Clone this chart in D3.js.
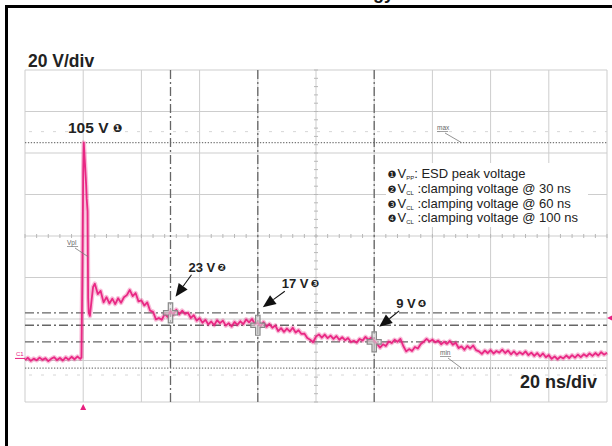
<!DOCTYPE html>
<html>
<head>
<meta charset="utf-8">
<script src="https://cdn.jsdelivr.net/npm/d3@7/dist/d3.min.js"></script>
<style>
html,body{margin:0;padding:0;background:#fff;}
svg{display:block;}
text{font-family:"Liberation Sans",Arial,Helvetica,sans-serif;}
</style>
</head>
<body>
<svg id="chart" width="612" height="446"></svg>
<script>
// ---- data ----
const timeNs = [
 -20,-19,-18,-17,-16,-15,-14,-13,-12,-11,-10,-9,-8,-7,-6,-5,-4,-3,-2,-1,
 -0.6,-0.3,0,0.2,0.6,1.0,1.2,1.5,1.6,1.7,1.9,2.3,2.8,3.4,
 4,5,6,7,8,9,10,11,12,13,14,15,16,17,18,19,20,21,22,23,24,25,26,27,28,29,30,
 31,32,33,34,35,36,37,38,39,40,41,42,43,44,45,46,47,48,49,50,
 51,52,53,54,55,56,57,58,59,60,61,62,63,64,65,66,67,68,69,70,
 71,72,73,74,75,76,77,78,79,80,81,82,83,84,85,86,87,88,89,90,
 91,92,93,94,95,96,97,98,99,100,101,102,103,104,105,106,107,108,109,110,
 111,112,113,114,115,116,117,118,119,120,121,122,123,124,125,126,127,128,129,130,
 131,132,133,134,135,136,137,138,139,140,141,142,143,144,145,146,147,148,149,150,
 151,152,153,154,155,156,157,158,159,160,161,162,163,164,165,166,167,168,169,170,
 171,172,173,174,175,176,177,178,179,180
];
const voltV = [
 0.2,1.3,-0.2,0.9,0.1,1.4,0.3,1.1,-0.3,0.8,1.6,0.2,1.2,0.0,1.5,0.4,1.8,0.6,1.9,0.8,
 1.5,40,90,105,95,85,78,72,50,30,23,21.5,28,35.5,
 37.0,32.0,33.5,28.0,30.5,27.5,29.8,27.2,30.0,27.8,30.5,31.5,34.0,31.0,32.5,28.5,29.0,26.5,28.0,24.0,23.5,19.8,20.5,19.6,22.5,21.0,23.8,
 22.0,24.5,22.2,24.0,22.5,23.0,20.5,21.8,19.2,20.4,18.2,19.6,17.4,18.8,17.0,19.4,18.0,19.2,16.8,18.0,
 16.4,18.6,17.2,18.9,17.5,19.8,18.4,20.0,17.6,18.2,16.6,18.5,16.2,17.6,15.8,16.9,14.2,15.6,13.8,15.4,
 14.0,15.8,13.5,14.6,12.8,13.0,10.8,10.0,8.8,11.5,12.6,11.0,12.5,10.8,12.0,10.4,11.8,10.0,11.2,9.8,
 10.8,8.9,9.5,8.6,10.4,9.6,11.4,10.0,11.0,9.6,8.0,6.2,7.8,7.0,9.2,8.4,10.0,9.0,10.4,7.0,
 4.4,5.5,4.6,6.5,5.8,8.0,9.0,10.4,9.2,10.0,8.8,9.6,7.8,9.0,8.0,9.4,7.6,8.6,6.0,6.8,
 5.2,7.0,5.8,7.2,5.0,4.4,3.2,4.8,3.6,5.0,3.4,4.6,3.8,5.2,3.6,4.8,3.0,4.4,2.8,4.0,
 3.0,4.4,2.6,3.8,2.2,3.6,2.0,3.4,1.6,2.6,0.8,2.0,0.6,1.8,1.0,2.4,1.2,2.6,1.4,2.8,
 1.6,3.0,2.0,3.4,2.2,3.6,2.4,4.0,2.8,3.8
];
const cursorTimes = [30, 60, 100];          // ns
const cursorVolts = [23, 17, 9];            // V
const cursorLabels = ["23 V", "17 V", "9 V"];
const cursorMarks = ["\u2777", "\u2778", "\u2779"];
const peakVolt = 105, minVolt = -3.7, triggerLevel = 20.5;
const voltDivLabel = "20 V/div", timeDivLabel = "20 ns/div";
const legendMarks = ["\u2776", "\u2777", "\u2778", "\u2779"];
const legendSubs = ["PP", "CL", "CL", "CL"];
const legendTexts = [": ESD peak voltage", " :clamping voltage @ 30 ns", " :clamping voltage @ 60 ns", " :clamping voltage @ 100 ns"];
const gridTimes = d3.range(-20, 181, 20);
const gridVolts = d3.range(-20, 141, 20);

// ---- layout ----
const svg = d3.select("#chart");
const x = d3.scaleLinear().domain([-20, 180]).range([25, 607]);
const y = d3.scaleLinear().domain([-20, 140]).range([402, 70]);
const pink = "#e8207f";

// outer frame (only left and top visible)
svg.append("path").attr("d", "M6.5,460V6.5H640").attr("fill", "none").attr("stroke", "#000").attr("stroke-width", 3);
// clipped title descenders (title lies above the picture)
svg.append("text").attr("x", 394).attr("y", -1).attr("text-anchor", "end")
  .attr("font-size", 18).attr("font-weight", "bold").attr("fill", "#111").text("Technology");

const g = svg.append("g");
// grid
g.selectAll("line.vg").data(gridTimes).join("line")
  .attr("x1", d => x(d)).attr("x2", d => x(d)).attr("y1", y(140)).attr("y2", y(-20))
  .attr("stroke", "#cdcdcd").attr("stroke-width", 1);
g.selectAll("line.hg").data(gridVolts).join("line")
  .attr("x1", x(-20)).attr("x2", x(180)).attr("y1", d => y(d)).attr("y2", d => y(d))
  .attr("stroke", "#cdcdcd").attr("stroke-width", 1);
// center axis minor ticks
const tmid = 80, vmid = 60;
g.selectAll("line.tx").data(d3.range(-20, 181, 4)).join("line")
  .attr("x1", d => x(d)).attr("x2", d => x(d)).attr("y1", y(vmid) - 2).attr("y2", y(vmid) + 2)
  .attr("stroke", "#b8b8b8");
g.selectAll("line.ty").data(d3.range(-20, 141, 4)).join("line")
  .attr("x1", x(tmid) - 2).attr("x2", x(tmid) + 2).attr("y1", d => y(d)).attr("y2", d => y(d))
  .attr("stroke", "#b8b8b8");
// faint ghost lines
[110.3, -7].forEach(v => g.append("line").attr("x1", x(-20) + 4).attr("x2", x(180)).attr("y1", y(v)).attr("y2", y(v))
  .attr("stroke", "#d6d6d6").attr("stroke-dasharray", "3,9"));

// legend white box
g.append("rect").attr("x", 386).attr("y", 163).attr("width", 202).attr("height", 64).attr("fill", "#fff");

// max/min dotted lines
[peakVolt, minVolt].forEach(v => g.append("line").attr("x1", x(-20)).attr("x2", x(180)).attr("y1", y(v)).attr("y2", y(v))
  .attr("stroke", "#777").attr("stroke-width", 1.2).attr("stroke-dasharray", "1.3,1.6"));
// cursor dash-dot lines
g.selectAll("line.ch").data(cursorVolts).join("line")
  .attr("x1", x(-20)).attr("x2", x(180)).attr("y1", d => y(d)).attr("y2", d => y(d))
  .attr("stroke", "#666").attr("stroke-width", 1.3).attr("stroke-dasharray", "9,3,2,3");
g.selectAll("line.cv").data(cursorTimes).join("line")
  .attr("x1", d => x(d)).attr("x2", d => x(d)).attr("y1", y(140)).attr("y2", y(-20))
  .attr("stroke", "#666").attr("stroke-width", 1.3).attr("stroke-dasharray", "9,3,2,3");

// waveform (soft band + core trace)
const line = d3.line().x((d, i) => x(timeNs[i])).y(d => y(d));
g.append("path").attr("d", line(voltV)).attr("fill", "none").attr("stroke", pink)
  .attr("stroke-width", 4.5).attr("stroke-linejoin", "round").attr("opacity", 0.3);
g.append("path").attr("d", line(voltV)).attr("fill", "none").attr("stroke", pink)
  .attr("stroke-width", 1.8).attr("stroke-linejoin", "round").attr("opacity", 0.95);

// cursor cross markers
cursorTimes.forEach((t, i) => {
  const cx = x(t), cy = y(cursorVolts[i]);
  const a = 7, b = 10, w = 2.2;
  const p = `M${cx - w},${cy - b}H${cx + w}V${cy - w}H${cx + a}V${cy + w}H${cx + w}V${cy + b}H${cx - w}V${cy + w}H${cx - a}V${cy - w}H${cx - w}Z`;
  g.append("path").attr("d", p).attr("fill", "#d9d9d9").attr("fill-opacity", 0.6).attr("stroke", "#888").attr("stroke-width", 1.2);
});

// markers: channel, trigger
g.append("text").attr("x", 16).attr("y", y(1) - 2).attr("font-size", 6).attr("fill", pink).text("C1");
g.append("line").attr("x1", 15).attr("x2", 25).attr("y1", y(1)).attr("y2", y(1)).attr("stroke", pink).attr("stroke-width", 1);
g.append("path").attr("d", `M${x(0)},${y(-20) + 2}l3,6h-6z`).attr("fill", pink);
g.append("path").attr("d", `M${x(180)},${y(triggerLevel)}l6,-3v6z`).attr("fill", pink);

// small scope labels
function smallLabel(tx, ty, txt, lx, ly) {
  g.append("text").attr("x", tx).attr("y", ty).attr("font-size", 6.5).attr("fill", "#666").text(txt);
  g.append("line").attr("x1", tx).attr("x2", tx + txt.length * 3.7).attr("y1", ty + 1.5).attr("y2", ty + 1.5).attr("stroke", "#777").attr("stroke-width", 0.7);
  g.append("line").attr("x1", tx + 8).attr("y1", ty + 3).attr("x2", lx).attr("y2", ly).attr("stroke", "#777").attr("stroke-width", 0.8);
}
smallLabel(437, 130, "max", x(130), y(peakVolt));
smallLabel(440, 355, "min", x(130), y(minVolt));
smallLabel(67, 245, "Vpl", x(1.7), y(50));

// big labels
svg.append("text").attr("x", 28).attr("y", 66.5).attr("font-size", 17.5).attr("font-weight", "bold").attr("fill", "#222").text(voltDivLabel);
svg.append("text").attr("x", 597).attr("y", 387.5).attr("text-anchor", "end").attr("font-size", 18).attr("font-weight", "bold").attr("fill", "#222").text(timeDivLabel);

const peakT = svg.append("text").attr("x", 68).attr("y", y(peakVolt) - 10).attr("font-size", 15.5).attr("font-weight", "bold").attr("fill", "#222");
peakT.append("tspan").text(peakVolt + " V ");
peakT.append("tspan").attr("font-size", 11).attr("font-family", "DejaVu Sans").attr("dy", -1).text("\u2776");

// cursor labels with arrows
const labelOff = [[18, -41], [24, -37], [22, -34]];
const tipOff = [[5, -16], [5, -18], [5, -15]];
cursorTimes.forEach((t, i) => {
  const cx = x(t), cy = y(cursorVolts[i]);
  const lx = cx + labelOff[i][0], ly = cy + labelOff[i][1];
  const tt = svg.append("text").attr("x", lx).attr("y", ly).attr("font-size", 13).attr("font-weight", "bold").attr("fill", "#222");
  tt.append("tspan").text(cursorLabels[i]);
  tt.append("tspan").attr("font-size", 10).attr("font-family", "DejaVu Sans").attr("dx", 2).attr("dy", -1).text(cursorMarks[i]);
  const x2 = cx + tipOff[i][0], y2 = cy + tipOff[i][1];
  const x1 = lx + 3, y1 = ly + 3;
  const ang = Math.atan2(y2 - y1, x2 - x1), L = 13, W = 5.5;
  const bx = x2 - L * Math.cos(ang), by = y2 - L * Math.sin(ang);
  svg.append("line").attr("x1", x1).attr("y1", y1).attr("x2", bx).attr("y2", by).attr("stroke", "#111").attr("stroke-width", 1.1);
  svg.append("path").attr("d", `M${x2},${y2}L${bx + W * Math.sin(ang)},${by - W * Math.cos(ang)}L${bx - W * Math.sin(ang)},${by + W * Math.cos(ang)}Z`).attr("fill", "#111");
});

// legend
const legBase = [178, 193, 207.5, 222];
legendTexts.forEach((txt, i) => {
  const t = svg.append("text").attr("x", 387.5).attr("y", legBase[i]).attr("font-size", 13).attr("fill", "#222");
  t.append("tspan").attr("font-family", "DejaVu Sans").attr("font-size", 10).text(legendMarks[i]);
  t.append("tspan").attr("dx", 1).text("V");
  t.append("tspan").attr("font-size", 6).attr("dy", 2).text(legendSubs[i]);
  t.append("tspan").attr("dy", -2).text(txt);
});
</script>
</body>
</html>
